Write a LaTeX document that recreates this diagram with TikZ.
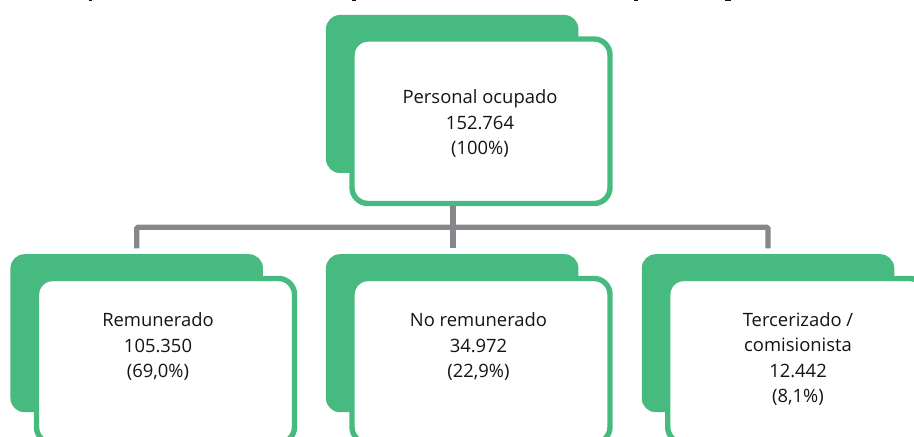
\documentclass[tikz,border=0pt]{standalone}
\usepackage{fontspec}
\setmainfont{Open Sans}
\definecolor{boxgreen}{HTML}{47BA7F}
\definecolor{linkgray}{HTML}{87878B}
\definecolor{inkdark}{HTML}{141414}
\tikzset{
  backbox/.style={fill=boxgreen,draw=none,rounded corners=14bp,minimum width=252.5bp,minimum height=158bp,inner sep=0pt,outer sep=0pt},
  frontbox/.style={fill=white,draw=boxgreen,line width=5.4bp,rounded corners=16bp,minimum width=258bp,minimum height=164.5bp,inner sep=0pt,outer sep=2.7bp},
  boxtext/.style={text=inkdark,align=center,font=\fontsize{18.4bp}{25.6bp}\selectfont,inner sep=0pt},
  linkline/.style={draw=linkgray,line width=5.4bp,rounded corners=1.5bp},
  speck/.style={fill=inkdark,draw=none}
}
\begin{document}
\begin{tikzpicture}[x=1bp,y=-1bp]
\useasboundingbox (0,0) rectangle (914,437);
\clip (0,0) rectangle (914,437);
\fill[white] (0,0) rectangle (914,437);
% clipped title descenders
\fill[speck] (88.5,0) rectangle (92,1.2);
\fill[speck] (352,0) rectangle (355.5,1.2);
\fill[speck] (634,0) rectangle (637.5,1.2);
\fill[speck] (725,0) rectangle (731,1.0);
% boxes
\node[backbox] (topback) at (452.2,94) {};
\node[frontbox] (top) at (481,121.25) {};
\node[boxtext] (toptext) at (480,123.5) {Personal ocupado\\152.764\\(100\%)};
\node[backbox] (leftback) at (136.7,333.2) {};
\node[frontbox] (left) at (165.5,360.75) {};
\node[boxtext] (lefttext) at (158,346.5) {Remunerado\\105.350\\(69,0\%)};
\node[backbox] (midback) at (452.2,333.2) {};
\node[frontbox] (mid) at (481,360.75) {};
\node[boxtext] (midtext) at (478.5,346.5) {No remunerado\\34.972\\(22,9\%)};
\node[backbox] (rightback) at (768,333.2) {};
\node[frontbox] (right) at (796.7,360.75) {};
\node[boxtext] (righttext) at (798,359) {Tercerizado /\\comisionista\\12.442\\(8,1\%)};
% connectors
\coordinate (bus) at (453,227.3);
\coordinate (dropL) at (136.7,248.5);
\coordinate (dropM) at (453,248.5);
\coordinate (dropR) at (768,248.5);
\draw[linkline] (dropL) -- (dropL |- bus) -- (dropR |- bus) -- (dropR);
\draw[linkline] (top.south -| bus) -- (dropM);
\end{tikzpicture}
\end{document}
